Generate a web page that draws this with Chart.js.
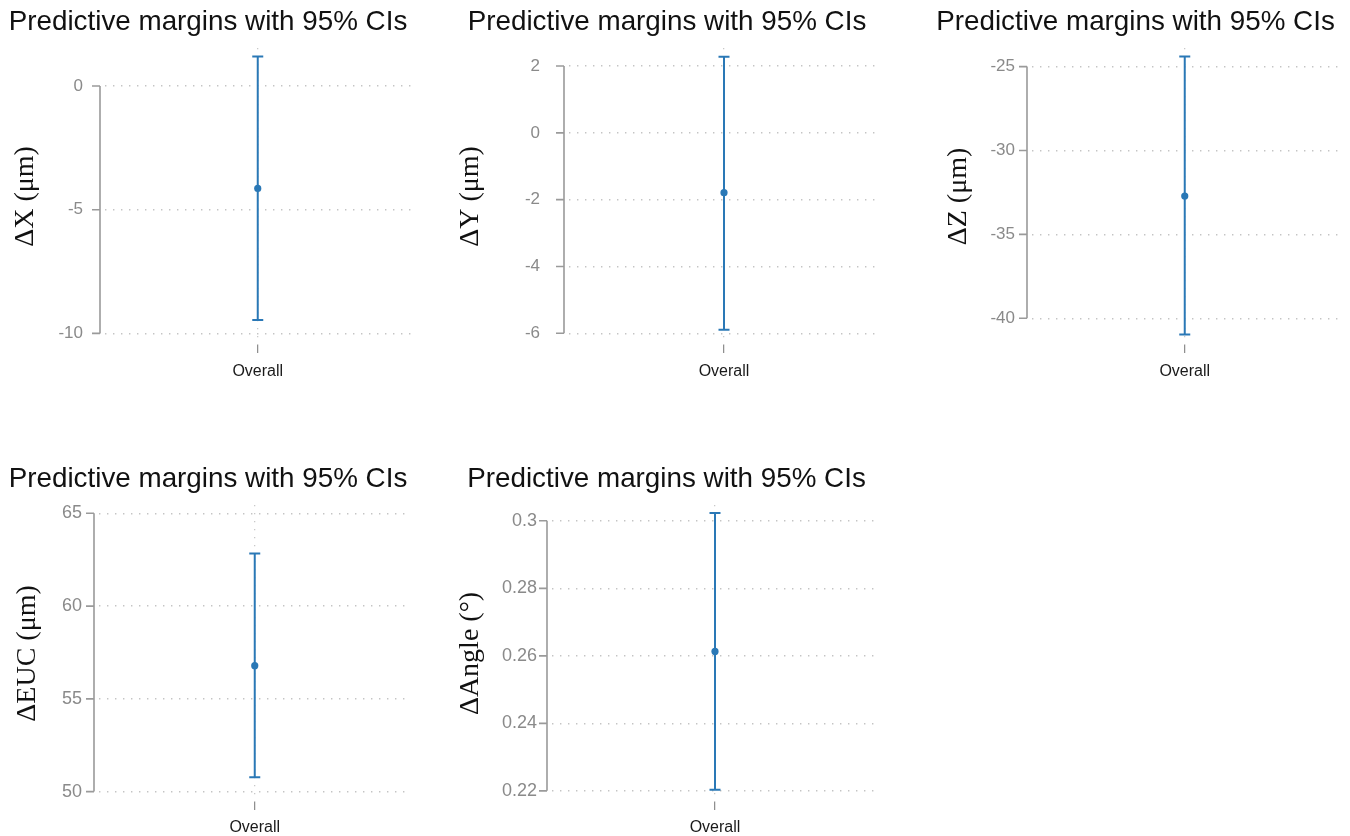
<!DOCTYPE html>
<html><head><meta charset="utf-8">
<script src="https://cdn.jsdelivr.net/npm/chart.js@4.4.1/dist/chart.umd.min.js"></script>
<style>
body{margin:0;background:#fff;width:1350px;height:836px;position:relative;overflow:hidden}
canvas{position:absolute}
</style>
</head><body>
<canvas id="c0"></canvas><canvas id="c1"></canvas><canvas id="c2"></canvas><canvas id="c3"></canvas><canvas id="c4"></canvas>
<script>
// ---- data ----
const categories = ['Overall'];
const chartTitle = 'Predictive margins with 95% CIs';
const yTitles = ['ΔX (μm)', 'ΔY (μm)', 'ΔZ (μm)', 'ΔEUC (μm)', 'ΔAngle (°)'];
const margins = [-4.14, -1.79, -32.71, 56.79, 0.2613];
const ciLow = [-9.46, -5.89, -40.96, 50.78, 0.2203];
const ciHigh = [1.19, 2.28, -24.40, 62.84, 0.3023];
const yTickValues = [
  [-10, -5, 0],
  [-6, -4, -2, 0, 2],
  [-40, -35, -30, -25],
  [50, 55, 60, 65],
  [0.22, 0.24, 0.26, 0.28, 0.3]
];
const yMin = [-10.47, -6.35, -41.59, 49.44, 0.2167];
const yMax = [1.54, 2.54, -23.89, 65.45, 0.3047];

// ---- layout / style ----
const BLUE = '#2a78b6';
const layouts = [
  {left:0,   top:0,   w:418, h:400, yW:105, padR:2,  tT:5.8,  tB:8.8, xH:55, xPad:9.4, tickPad:22, yTPad:12,  tick:17},
  {left:455, top:0,   w:437, h:400, yW:114, padR:13, tT:5.8,  tB:8.8, xH:55, xPad:9.4, tickPad:29, yTPad:2,   tick:17},
  {left:928, top:0,   w:417, h:400, yW:104, padR:2,  tT:5.8,  tB:8.8, xH:55, xPad:9.4, tickPad:17, yTPad:17,  tick:17},
  {left:0,   top:450, w:418, h:386, yW:99,  padR:2,  tT:12.3, tB:9.3, xH:34, xPad:8.4, tickPad:17, yTPad:13.5,tick:18},
  {left:455, top:450, w:437, h:386, yW:97,  padR:14, tT:12.3, tB:9.3, xH:34, xPad:8.4, tickPad:15, yTPad:2,   tick:18}
];

const yAxisLine = {
  id: 'yAxisLine',
  afterDraw(chart) {
    const y = chart.scales.y, ctx = chart.ctx;
    const x = chart.chartArea.left - 5;
    const vals = y.ticks.map(t => t.value);
    const top = y.getPixelForValue(Math.max(...vals));
    const bot = y.getPixelForValue(Math.min(...vals));
    ctx.save();
    ctx.strokeStyle = '#9a9a9a';
    ctx.lineWidth = 1.6;
    ctx.beginPath();
    ctx.moveTo(x, top); ctx.lineTo(x, bot);
    vals.forEach(v => { const p = y.getPixelForValue(v); ctx.moveTo(x - 8, p); ctx.lineTo(x, p); });
    ctx.stroke();
    ctx.restore();
  }
};

for (let i = 0; i < 5; i++) {
  const L = layouts[i];
  const cv = document.getElementById('c' + i);
  cv.width = L.w; cv.height = L.h;
  cv.style.left = L.left + 'px'; cv.style.top = L.top + 'px';
  cv.style.width = L.w + 'px'; cv.style.height = L.h + 'px';
  new Chart(cv, {
    type: 'line',
    data: {
      labels: categories,
      datasets: [
        {
          data: [{x: categories[0], y: ciLow[i]}, {x: categories[0], y: ciHigh[i]}],
          borderColor: BLUE, borderWidth: 2,
          pointStyle: 'line', pointRadius: 5.5, pointBorderWidth: 2, pointBorderColor: BLUE,
          pointBackgroundColor: BLUE
        },
        {
          data: [margins[i]],
          showLine: false,
          pointStyle: 'circle', pointRadius: 3.6, pointBorderWidth: 0,
          pointBackgroundColor: BLUE, borderColor: BLUE
        }
      ]
    },
    options: {
      responsive: false,
      animation: false,
      events: [],
      devicePixelRatio: 1,
      layout: {padding: {left: 0, right: L.padR, top: 0, bottom: 0}},
      plugins: {
        legend: {display: false},
        tooltip: {enabled: false},
        title: {
          display: true, text: chartTitle, color: '#111',
          font: {family: 'Liberation Sans, Arial, sans-serif', size: 27.8, weight: 'normal', lineHeight: 1.2},
          padding: {top: L.tT, bottom: L.tB}
        }
      },
      scales: {
        x: {
          type: 'category', offset: true,
          border: {display: false, dash: [1.3, 6.7]},
          grid: {display: true, offset: false, drawOnChartArea: true, color: '#c8c8c8', lineWidth: 1.3,
                 drawTicks: true, tickLength: 8, tickColor: '#8a8a8a', tickBorderDash: [], tickWidth: 1.2},
          ticks: {color: '#1a1a1a', padding: L.xPad, font: {family: 'Liberation Sans, Arial, sans-serif', size: 16}},
          afterFit(s) { s.height = L.xH; }
        },
        y: {
          type: 'linear', min: yMin[i], max: yMax[i],
          border: {display: false, dash: [1.4, 6.6]},
          afterBuildTicks(s) { s.ticks = yTickValues[i].map(v => ({value: v})); },
          afterFit(s) { s.width = L.yW; },
          grid: {display: true, drawTicks: false, color: '#c4c4c4', lineWidth: 1.4},
          ticks: {
            color: '#8a8a8a', padding: L.tickPad,
            font: {family: 'Liberation Sans, Arial, sans-serif', size: L.tick},
            callback: v => String(Number(v.toFixed(6)))
          },
          title: {
            display: true, text: yTitles[i], color: '#111',
            font: {family: 'Liberation Serif, Times New Roman, serif', size: 28, lineHeight: 1},
            padding: {top: L.yTPad, bottom: 0}
          }
        }
      }
    },
    plugins: [yAxisLine]
  });
}
</script>
</body></html>
